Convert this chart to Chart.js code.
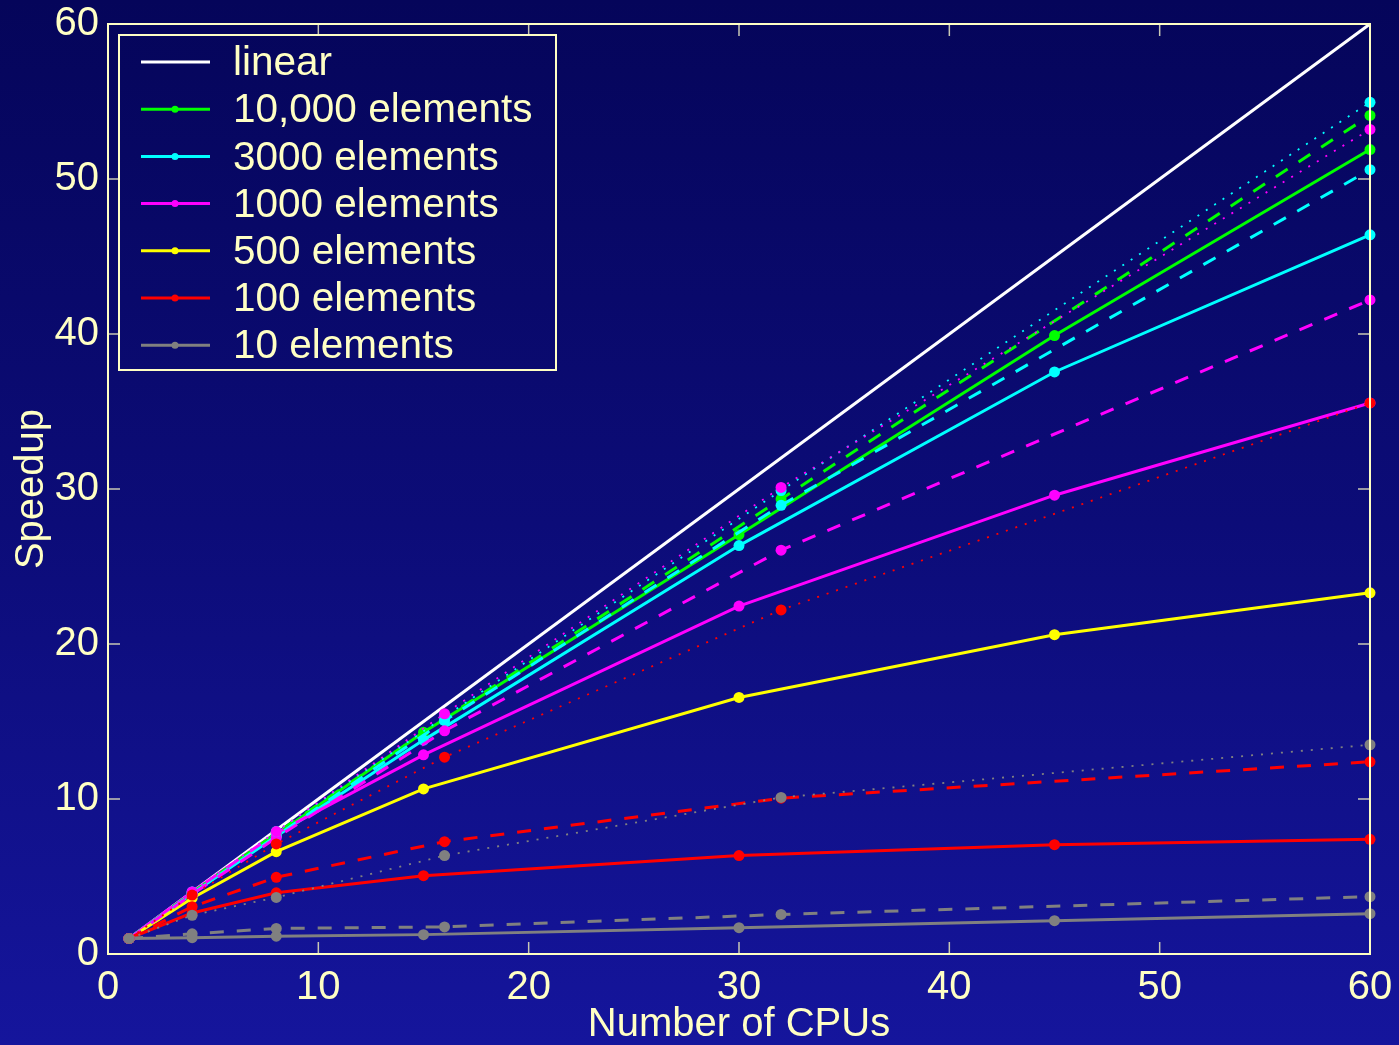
<!DOCTYPE html>
<html lang="en">
<head>
    <meta charset="UTF-8">
    <title>Speedup vs Number of CPUs</title>
    <script src="https://cdn.jsdelivr.net/npm/chart.js"></script>
    <style>
        html, body {
            margin: 0;
            padding: 0;
        }
        body {
            width: 1399px;
            height: 1045px;
            overflow: hidden;
            background: linear-gradient(to bottom, #05055a 0%, #0c0c78 50%, #15159c 100%);
        }
        .wrap {
            width: 1399px;
            height: 1045px;
        }
    </style>
</head>
<body>
    <div class="wrap">
        <canvas id="speedupChart" width="1399" height="1045"></canvas>
    </div>

    <script>
        // x values (number of CPUs) for the two kinds of runs
        const cpusSolid = [1, 4, 8, 15, 30, 45, 60];
        const cpusRun = [1, 4, 8, 16, 32, 60];
        const linearX = [1, 60];
        const linearY = [1, 60];

        const sizes = ['10,000 elements', '3000 elements', '1000 elements', '500 elements', '100 elements', '10 elements'];
        const sizeColors = ['#00ff00', '#00ffff', '#ff00ff', '#ffff00', '#ff0000', '#808080'];

        // solid lines (x = cpusSolid)
        const solid10000 = [1, 3.9, 7.7, 14.3, 27.05, 39.9, 51.9];
        const solid3000 = [1, 3.9, 7.6, 13.8, 26.35, 37.55, 46.4];
        const solid1000 = [1, 4.0, 7.8, 12.85, 22.45, 29.6, 35.55];
        const solid500 = [1, 3.6, 6.6, 10.65, 16.55, 20.6, 23.3];
        const solid100 = [1, 2.65, 3.95, 5.05, 6.35, 7.05, 7.4];
        const solid10 = [1, 1.05, 1.15, 1.25, 1.7, 2.15, 2.6];

        // dashed lines (x = cpusRun)
        const dashed10000 = [1, 3.95, 7.8, 15.2, 29.35, 54.1];
        const dashed3000 = [1, 3.9, 7.6, 15.05, 28.95, 50.6];
        const dashed1000 = [1, 3.85, 7.5, 14.4, 26.05, 42.2];
        const dashed100 = [1, 3.05, 4.95, 7.25, 10.05, 12.4];
        const dashed10 = [1, 1.3, 1.65, 1.75, 2.55, 3.7];

        // dotted lines (x = cpusRun)
        const dotted3000 = [1, 4.0, 7.9, 15.3, 29.9, 54.95];
        const dotted1000 = [1, 4.0, 7.9, 15.5, 30.1, 53.2];
        const dotted100 = [1, 3.8, 7.1, 12.7, 22.2, 35.55];
        const dotted10 = [1, 2.5, 3.65, 6.35, 10.1, 13.5];

        const cream = '#ffffc4';
        const FONT = '"Liberation Sans", Arial, sans-serif';

        function pts(xs, ys) {
            return xs.map((x, i) => ({ x: x, y: ys[i] }));
        }

        function series(xs, ys, color, style) {
            const ds = {
                data: pts(xs, ys),
                borderColor: color,
                backgroundColor: color,
                borderWidth: 3,
                pointRadius: 5.5,
                pointBorderWidth: 0,
                pointHoverRadius: 5.5,
                showLine: true,
                tension: 0,
                clip: false
            };
            if (style === 'dash') {
                ds.borderDash = [14, 13];
            } else if (style === 'dot') {
                ds.borderDash = [2, 8];
                ds.borderWidth = 1.8;
            }
            return ds;
        }

        const datasets = [
            series(cpusRun, dotted10, '#808080', 'dot'),
            series(cpusRun, dotted100, '#ff0000', 'dot'),
            series(cpusRun, dotted1000, '#ff00ff', 'dot'),
            series(cpusRun, dotted3000, '#00ffff', 'dot'),
            series(cpusRun, dashed10, '#808080', 'dash'),
            series(cpusRun, dashed100, '#ff0000', 'dash'),
            series(cpusRun, dashed1000, '#ff00ff', 'dash'),
            series(cpusRun, dashed3000, '#00ffff', 'dash'),
            series(cpusRun, dashed10000, '#00ff00', 'dash'),
            series(cpusSolid, solid10, '#808080'),
            series(cpusSolid, solid100, '#ff0000'),
            series(cpusSolid, solid500, '#ffff00'),
            series(cpusSolid, solid1000, '#ff00ff'),
            series(cpusSolid, solid3000, '#00ffff'),
            series(cpusSolid, solid10000, '#00ff00')
        ];
        const lin = series(linearX, linearY, '#ffffff');
        lin.pointRadius = 0;
        datasets.push(lin);

        // box round the plot with inward ticks on all four sides, plus the legend
        const frame = {
            id: 'frame',
            afterDatasetsDraw(chart) {
                const ctx = chart.ctx;
                const a = chart.chartArea;
                const xs = chart.scales.x, ys = chart.scales.y;
                ctx.save();
                ctx.strokeStyle = '#c8c8b4';
                ctx.lineWidth = 1.5;
                ctx.beginPath();
                for (let v = 10; v < 60; v += 10) {
                    const px = xs.getPixelForValue(v);
                    ctx.moveTo(px, a.bottom); ctx.lineTo(px, a.bottom - 12);
                    ctx.moveTo(px, a.top); ctx.lineTo(px, a.top + 12);
                    const py = ys.getPixelForValue(v);
                    ctx.moveTo(a.left, py); ctx.lineTo(a.left + 12, py);
                    ctx.moveTo(a.right, py); ctx.lineTo(a.right - 12, py);
                }
                ctx.stroke();
                ctx.strokeStyle = cream;
                ctx.lineWidth = 2;
                ctx.strokeRect(a.left, a.top, a.right - a.left, a.bottom - a.top);

                // legend
                const lx = a.left + 11, ly = a.top + 11;
                const lw = 437, lh = 335;
                ctx.strokeRect(lx, ly, lw, lh);
                const labels = ['linear'].concat(sizes);
                const colors = ['#ffffff'].concat(sizeColors);
                ctx.font = '40.5px ' + FONT;
                ctx.textBaseline = 'middle';
                labels.forEach((t, i) => {
                    const cy = ly + 27 + i * 47.2;
                    ctx.strokeStyle = colors[i];
                    ctx.lineWidth = 3;
                    ctx.beginPath();
                    ctx.moveTo(lx + 22, cy);
                    ctx.lineTo(lx + 91, cy);
                    ctx.stroke();
                    if (i > 0) {
                        ctx.fillStyle = colors[i];
                        ctx.beginPath();
                        ctx.arc(lx + 56, cy, 3.5, 0, Math.PI * 2);
                        ctx.fill();
                    }
                    ctx.fillStyle = cream;
                    ctx.fillText(t, lx + 114, cy + 2);
                });
                ctx.restore();
            }
        };

        const ctx = document.getElementById('speedupChart').getContext('2d');
        new Chart(ctx, {
            type: 'scatter',
            data: { datasets: datasets },
            options: {
                responsive: false,
                animation: false,
                layout: { padding: { top: 24, right: 29, left: 12, bottom: 0 } },
                plugins: {
                    legend: { display: false },
                    tooltip: { enabled: false }
                },
                scales: {
                    x: {
                        type: 'linear',
                        min: 0,
                        max: 60,
                        grid: { display: false },
                        border: { display: false },
                        afterFit: (scale) => {
                            scale.height = 91;
                            scale.paddingLeft = 0;
                            scale.paddingRight = 0;
                        },
                        ticks: {
                            stepSize: 10,
                            color: cream,
                            padding: 6,
                            maxRotation: 0,
                            font: { family: FONT, size: 40, lineHeight: 1 }
                        },
                        title: {
                            display: true,
                            text: 'Number of CPUs',
                            color: cream,
                            padding: { top: 0, bottom: 0 },
                            font: { family: FONT, size: 40, lineHeight: 1 }
                        }
                    },
                    y: {
                        type: 'linear',
                        min: 0,
                        max: 60,
                        grid: { display: false },
                        border: { display: false },
                        afterFit: (scale) => {
                            scale.width = 96;
                            scale.paddingTop = 0;
                            scale.paddingBottom = 0;
                        },
                        ticks: {
                            stepSize: 10,
                            color: cream,
                            padding: 1,
                            font: { family: FONT, size: 40, lineHeight: 1 }
                        },
                        title: {
                            display: true,
                            text: 'Speedup',
                            color: cream,
                            padding: { top: 0, bottom: 0 },
                            font: { family: FONT, size: 40, lineHeight: 1 }
                        }
                    }
                }
            },
            plugins: [frame]
        });
    </script>
</body>
</html>
